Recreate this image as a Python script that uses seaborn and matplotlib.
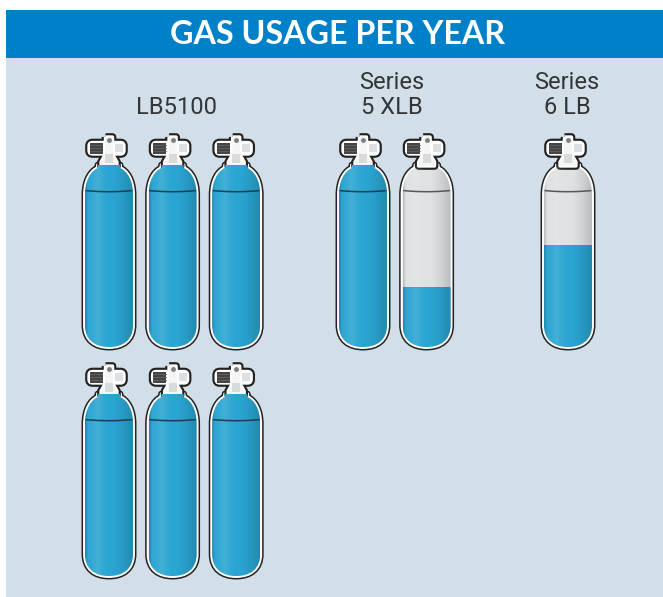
import numpy as np
import pandas as pd
import matplotlib.pyplot as plt
import seaborn as sns
from matplotlib.patches import PathPatch, Rectangle, FancyBboxPatch
from matplotlib.path import Path

TITLE = 'GAS USAGE PER YEAR'
products = ['LB5100', 'Series\n5 XLB', 'Series\n6 LB']
cylinders = [6.0, 1.33, 0.56]

W, H = 663, 597
BLUE = '#2AA5D1'
SILVER = '#E0E1E2'
PANEL = '#D2DFE9'
HEADER = '#0080C8'
TEXT = '#333638'

# layout in pixels
GROUP_LEFT = [109, 363, 568]
LABEL_X = [177, 392, 567]
LABEL_Y = [107, 95, 95]
STEP_X = 63.6
STEP_Y = 229
PER_ROW = 3
TOP = 133
BODY_TOP = 165
BODY_BOTTOM = 347
HALF = 24


def body_path(cx, dy):
    # cylinder outline, neck down to the rounded bottom
    t = BODY_TOP + dy
    b = BODY_BOTTOM + dy
    verts = [
        (cx - 11, t), (cx + 11, t), (cx + 11, t + 3),
        (cx + 18, t + 6), (cx + HALF, t + 15), (cx + HALF, t + 30),
        (cx + HALF, b - 22),
        (cx + HALF, b - 7), (cx + 14, b), (cx, b),
        (cx - 14, b), (cx - HALF, b - 7), (cx - HALF, b - 22),
        (cx - HALF, t + 30),
        (cx - HALF, t + 15), (cx - 18, t + 6), (cx - 11, t + 3),
        (cx - 11, t),
    ]
    codes = [Path.MOVETO, Path.LINETO, Path.LINETO,
             Path.CURVE4, Path.CURVE4, Path.CURVE4,
             Path.LINETO,
             Path.CURVE4, Path.CURVE4, Path.CURVE4,
             Path.CURVE4, Path.CURVE4, Path.CURVE4,
             Path.LINETO,
             Path.CURVE4, Path.CURVE4, Path.CURVE4,
             Path.CLOSEPOLY]
    return Path(verts, codes)


def valve_parts(cx, dy):
    y = TOP + dy
    stem = Path([(cx - 3.5, y + 4), (cx + 3.5, y + 4), (cx + 4, y + 22), (cx + 8, y + 29),
                 (cx + 8, y + 33), (cx - 8, y + 33), (cx - 8, y + 29), (cx - 4, y + 22),
                 (cx - 3.5, y + 4)])
    knob_l = FancyBboxPatch((cx - 20, y + 9.5), 20, 11.5, boxstyle='round,pad=0,rounding_size=3.5')
    knob_r = FancyBboxPatch((cx, y + 9.5), 15, 11.5, boxstyle='round,pad=0,rounding_size=3.5')
    return stem, knob_l, knob_r


def draw_valve(ax, cx, dy):
    stem, knob_l, knob_r = valve_parts(cx, dy)
    y = TOP + dy
    # black sticker edge, then white, then the parts
    for color, lw in [('#222222', 5.5), ('white', 2.4)]:
        ax.add_patch(PathPatch(stem, fc=color, ec=color, lw=lw, joinstyle='round'))
        for k in valve_parts(cx, dy)[1:]:
            k.set(fc=color, ec=color, lw=lw)
            ax.add_patch(k)
    ax.add_patch(PathPatch(stem, fc='#F4F5F5', ec='none'))
    ax.add_patch(Rectangle((cx - 19.5, y + 9.5), 13, 11.5, fc='#454546', ec='none'))
    for k in range(3):
        ax.plot([cx - 19.5, cx - 7], [y + 12 + 3 * k] * 2, color='#5E5E5F', lw=0.7)
    ax.add_patch(Rectangle((cx + 6, y + 11), 8, 8, fc='#DDE0E2', ec='none'))
    ax.add_patch(Rectangle((cx - 4, y + 21), 8, 9, fc='#D8DBDC', ec='none'))
    ax.plot([cx], [y + 7], 'o', ms=2.5, color='#808080')


def tank_positions():
    rows = []
    for product, usage, left in zip(products, cylinders, GROUP_LEFT):
        n = int(np.ceil(usage))
        for i in range(n):
            rows.append({
                'product': product,
                'fill': min(usage - i, 1.0),
                'cx': left + STEP_X * (i % PER_ROW),
                'dy': STEP_Y * (i // PER_ROW),
            })
    return pd.DataFrame(rows)


def main():
    sns.set_theme(style='white')
    plt.rcParams['font.family'] = ['Roboto', 'DejaVu Sans']

    fig = plt.figure(figsize=(W / 100, H / 100), dpi=100, facecolor='white')
    ax = fig.add_axes([0, 0, 1, 1], zorder=0)
    top = fig.add_axes([0, 0, 1, 1], zorder=5)
    for a in (ax, top):
        a.set_xlim(0, W)
        a.set_ylim(H, 0)
        a.axis('off')

    ax.add_patch(Rectangle((6, 58), W - 6, H - 58, fc=PANEL, ec='none'))
    ax.add_patch(Rectangle((6, 10), W - 6, 48, fc=HEADER, ec='none'))
    ax.text(337.5, 35, TITLE, color='white', ha='center', va='center', fontsize=23.2,
            fontfamily=['Lato', 'DejaVu Sans'], fontweight='bold')
    for label, x, y in zip(products, LABEL_X, LABEL_Y):
        ax.text(x, y, label, color=TEXT, ha='center', va='center', fontsize=17, linespacing=1.13)

    # horizontal shading of the metal
    u = np.linspace(0, 1, 96)
    light = np.clip(1 - np.abs(u - 0.26) / 0.26, 0, 1) ** 1.5
    dark = np.clip((u - 0.55) / 0.45, 0, 1) ** 1.5 + np.clip((0.06 - u) / 0.06, 0, 1)
    shade = np.zeros((1, u.size, 4))
    shade[..., 3] = np.clip(dark * 0.17, 0, 1)
    highlight = np.ones((1, u.size, 4))
    highlight[..., 3] = light * 0.12

    for row in tank_positions().itertuples():
        cx, dy = row.cx, row.dy
        for color, lw in [('#222222', 5.0), ('white', 2.8)]:
            ax.add_patch(PathPatch(body_path(cx, dy), fc=color, ec=color, lw=lw, joinstyle='round'))
        clip = PathPatch(body_path(cx, dy), fc=SILVER, ec='none')
        ax.add_patch(clip)
        draw_valve(ax, cx, dy)

        # the level itself, one small bar axes over the cylinder body
        box = [(cx - HALF) / W, 1 - (BODY_BOTTOM + dy) / H, 2 * HALF / W, (BODY_BOTTOM - BODY_TOP) / H]
        bar_ax = fig.add_axes(box, zorder=2)
        sns.barplot(x=[row.product], y=[row.fill], color=BLUE, saturation=1, width=1, ax=bar_ax)
        bar_ax.set_xlim(-0.5, 0.5)
        bar_ax.set_ylim(0, 1)
        bar_ax.axis('off')
        for bar in bar_ax.patches:
            bar.set_clip_path(clip)
            bar.set_edgecolor('none')

        extent = (cx - HALF, cx + HALF, BODY_BOTTOM + dy, BODY_TOP + dy)
        for img in (shade, highlight):
            im = top.imshow(img, extent=extent, aspect='auto', interpolation='bilinear')
            im.set_clip_path(PathPatch(body_path(cx, dy), transform=top.transData))
        xs = np.linspace(cx - HALF + 0.5, cx + HALF - 0.5, 30)
        ys = BODY_TOP + dy + 25.5 + 1.2 * (1 - ((xs - cx) / HALF) ** 2)
        top.plot(xs, ys, color='#1C3F50' if row.fill >= 1 else '#55585A', lw=1.1, solid_capstyle='butt')

    top.set_xlim(0, W)
    top.set_ylim(H, 0)
    fig.savefig('out.png', dpi=100, facecolor='white')
    plt.close(fig)


if __name__ == '__main__':
    main()
